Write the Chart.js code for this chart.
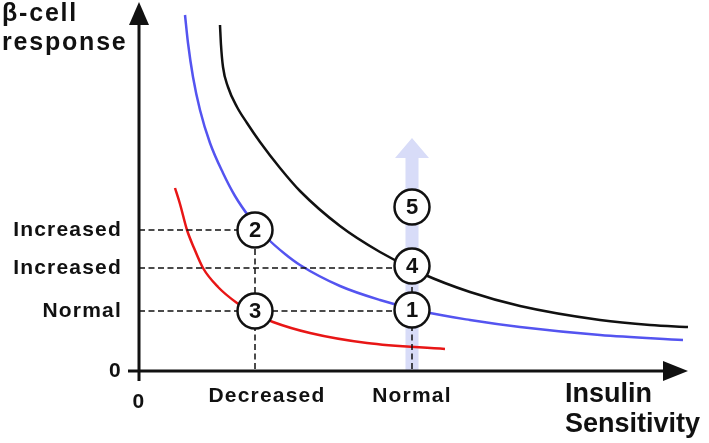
<!DOCTYPE html>
<html>
<head>
<meta charset="utf-8">
<script src="https://cdn.jsdelivr.net/npm/chart.js@4/dist/chart.umd.min.js"></script>
<style>
html,body{margin:0;padding:0;background:#fff;}
#wrap{width:709px;height:443px;position:relative;}
</style>
</head>
<body>
<div id="wrap"><canvas id="c" width="709" height="443"></canvas></div>
<script>
// ---- data (abstract units: insulin sensitivity on x, beta-cell response on y)
const xTickValues = [0, 128, 273];
const xTickLabels = ['0', 'Decreased', 'Normal'];
const yTickValues = [0, 60, 103, 141];
const yTickLabels = ['0', 'Normal', 'Increased', 'Increased'];

const redCurve   = [[36,183],[41,167],[48,141],[55,123],[64,103],[79,84],[98,68],[116,57],[134,49],[171,38],[228,28],[306,22]];
const blueCurve  = [[46,356],[49,328],[54,294],[61,261],[71,228],[84,198],[96,175],[111,153],[128,133],[146,117],[161,106],[201,85],[241,71],[286,59],[331,51],[381,44],[461,36],[544,31]];
const blackCurve = [[81,346],[82,326],[84,304],[89,284],[98,264],[108,248],[121,229],[141,203],[161,180],[201,145],[241,119],[284,97],[331,79],[381,65],[461,51],[511,46],[549,44]];

const decreasedX = 116;
const normalX = 273;
const increasedHighY = 141;
const increasedLowY = 103;
const normalY = 60;

const circleLabels = ['2', '3', '1', '4', '5'];
const circleX = [116, 116, 273, 273, 273];
const circleY = [141, 60, 61, 105, 164];

const arrowX = 273;      // light-blue arrow at normal sensitivity
const arrowTopY = 233;

const xTitle = ['Insulin', 'Sensitivity'];
const yTitle = ['\u03B2-cell', 'response'];

// ---- helpers
const pts = a => a.map(p => ({x: p[0], y: p[1]}));
const dashSegs = [
  [[0, increasedHighY], [decreasedX, increasedHighY]],
  [[0, increasedLowY], [normalX, increasedLowY]],
  [[0, normalY], [normalX, normalY]],
  [[decreasedX, increasedHighY], [decreasedX, 0]],
  [[normalX, increasedLowY], [normalX, 0]]
];

const FONT = '"Liberation Sans", Arial, sans-serif';
const INK = '#111';

const dashDatasets = dashSegs.map(s => ({
  type: 'line', data: pts(s), borderColor: INK, borderWidth: 1.5, borderDash: [6, 3.5],
  pointRadius: 0, fill: false, order: 1, clip: false
}));

const axesPlugin = {
  id: 'axesPlugin',
  beforeDraw(chart) {
    chart.ctx.letterSpacing = '1.2px';
  },
  beforeDatasetsDraw(chart) {
    const ctx = chart.ctx;
    ctx.letterSpacing = '0px';
    const xs = chart.scales.x, ys = chart.scales.y;
    // light blue arrow
    const ax = xs.getPixelForValue(arrowX);
    const y0 = ys.getPixelForValue(0);
    const yt = ys.getPixelForValue(arrowTopY);
    ctx.save();
    ctx.fillStyle = 'rgb(216,220,248)';
    ctx.beginPath();
    ctx.moveTo(ax - 6.5, y0);
    ctx.lineTo(ax - 6.5, yt + 20);
    ctx.lineTo(ax - 17, yt + 20);
    ctx.lineTo(ax, yt);
    ctx.lineTo(ax + 17, yt + 20);
    ctx.lineTo(ax + 6.5, yt + 20);
    ctx.lineTo(ax + 6.5, y0);
    ctx.closePath();
    ctx.fill();
    ctx.restore();
  },
  afterDatasetsDraw(chart) {
    const ctx = chart.ctx;
    const xs = chart.scales.x, ys = chart.scales.y;
    const x0 = xs.getPixelForValue(0), y0 = ys.getPixelForValue(0);
    const xEnd = xs.right, yEnd = ys.top;
    ctx.save();
    ctx.strokeStyle = INK; ctx.fillStyle = INK; ctx.lineWidth = 3; ctx.setLineDash([]);
    // y axis
    ctx.beginPath(); ctx.moveTo(x0, y0 + 10); ctx.lineTo(x0, yEnd + 20); ctx.stroke();
    ctx.beginPath(); ctx.moveTo(x0, yEnd - 3); ctx.lineTo(x0 - 10, yEnd + 20); ctx.lineTo(x0 + 10, yEnd + 20); ctx.closePath(); ctx.fill();
    // x axis
    ctx.beginPath(); ctx.moveTo(x0 - 11, y0); ctx.lineTo(xEnd - 22, y0); ctx.stroke();
    ctx.beginPath(); ctx.moveTo(xEnd, y0); ctx.lineTo(xEnd - 25, y0 - 10); ctx.lineTo(xEnd - 25, y0 + 10); ctx.closePath(); ctx.fill();
    // circle numbers
    const meta = chart.getDatasetMeta(chart.data.datasets.length - 1);
    ctx.font = 'bold 22px ' + FONT;
    ctx.textAlign = 'center'; ctx.textBaseline = 'middle';
    meta.data.forEach((el, i) => { ctx.fillText(circleLabels[i], el.x, el.y + 1); });
    // axis titles
    ctx.textAlign = 'left'; ctx.textBaseline = 'alphabetic';
    ctx.font = 'bold 25px ' + FONT;
    ctx.letterSpacing = '1.8px';
    ctx.fillText(yTitle[0], 2, 21);
    ctx.fillText(yTitle[1], 2, 50);
    ctx.letterSpacing = '0px';
    ctx.font = 'bold 27px ' + FONT;
    ctx.fillText(xTitle[0], 565, 402);
    ctx.fillText(xTitle[1], 565, 432);
    ctx.restore();
  }
};

new Chart(document.getElementById('c'), {
  type: 'line',
  data: {
    datasets: [
      {data: pts(redCurve), borderColor: 'rgb(232,22,22)', borderWidth: 2.5, pointRadius: 0, cubicInterpolationMode: 'monotone', order: 2, clip: false},
      {data: pts(blueCurve), borderColor: 'rgb(84,84,240)', borderWidth: 2.5, pointRadius: 0, cubicInterpolationMode: 'monotone', order: 2, clip: false},
      {data: pts(blackCurve), borderColor: INK, borderWidth: 2.5, pointRadius: 0, cubicInterpolationMode: 'monotone', order: 2, clip: false},
      ...dashDatasets,
      {data: circleX.map((x, i) => ({x, y: circleY[i]})), showLine: false, pointRadius: 17.5, pointBackgroundColor: '#fff',
       pointBorderColor: INK, pointBorderWidth: 2.5, order: 0, clip: false}
    ]
  },
  options: {
    responsive: false,
    animation: false,
    events: [],
    layout: {autoPadding: false, padding: {top: 5, right: 21, left: 0, bottom: 0}},
    plugins: {legend: {display: false}, tooltip: {enabled: false}, title: {display: false}},
    scales: {
      x: {
        type: 'linear', min: 0, max: 549,
        grid: {display: false, drawTicks: false}, border: {display: false},
        afterBuildTicks: s => { s.ticks = xTickValues.map(v => ({value: v})); },
        afterFit: s => { s.height = 72; s.paddingLeft = 0; s.paddingRight = 0; },
        ticks: {
          autoSkip: false, maxRotation: 0, padding: 13, color: INK,
          font: (c) => ({family: FONT, size: 21, weight: 'bold', lineHeight: (c.tick && c.tick.value === 0) ? 1.72 : 1.2}),
          callback: (v) => xTickLabels[xTickValues.indexOf(v)]
        }
      },
      y: {
        type: 'linear', min: 0, max: 366,
        grid: {display: false, drawTicks: false}, border: {display: false},
        afterBuildTicks: s => { s.ticks = yTickValues.map(v => ({value: v})); },
        afterFit: s => { s.width = 139; s.paddingTop = 0; s.paddingBottom = 0; },
        ticks: {
          autoSkip: false, padding: 17, color: INK,
          font: {family: FONT, size: 21, weight: 'bold'},
          callback: (v) => yTickLabels[yTickValues.indexOf(v)]
        }
      }
    }
  },
  plugins: [axesPlugin]
});
</script>
</body>
</html>
